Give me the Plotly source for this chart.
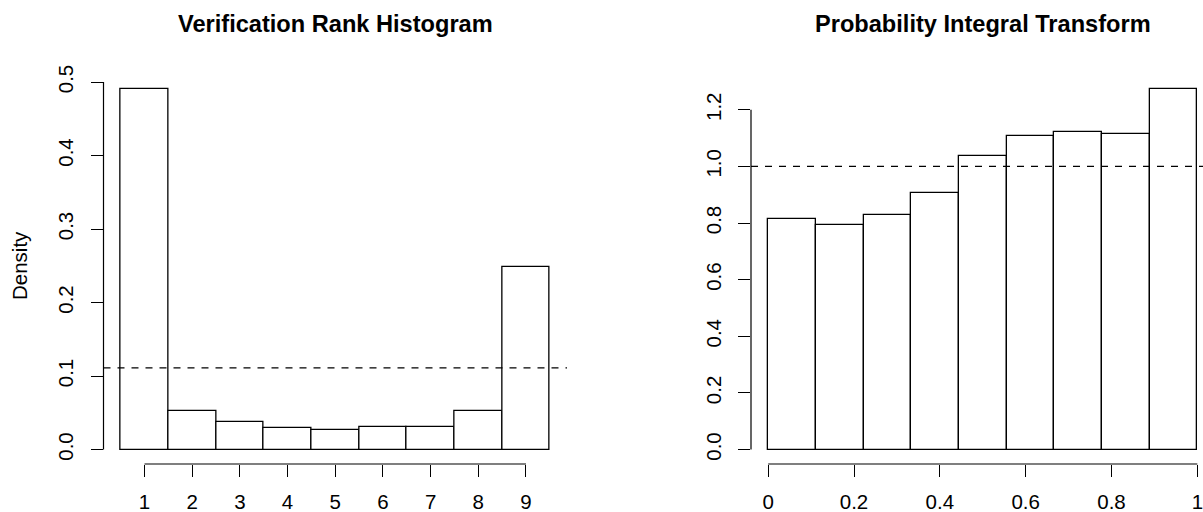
import plotly.graph_objects as go

# ---- data ----
ranks = [1, 2, 3, 4, 5, 6, 7, 8, 9]
rank_density = [0.490, 0.052, 0.037, 0.029, 0.027, 0.031, 0.031, 0.052, 0.249]
pit_edges = [i / 9 for i in range(10)]
pit_density = [0.815, 0.794, 0.828, 0.907, 1.036, 1.109, 1.123, 1.113, 1.272]
rank_ticks = [1, 2, 3, 4, 5, 6, 7, 8, 9]
pit_xticks = [0, 0.2, 0.4, 0.6, 0.8, 1.0]
pit_xlabels = ["0", "0.2", "0.4", "0.6", "0.8", "1"]
rank_yticks = [0, 0.1, 0.2, 0.3, 0.4, 0.5]
rank_ylabels = ["0.0", "0.1", "0.2", "0.3", "0.4", "0.5"]
pit_yticks = [0, 0.2, 0.4, 0.6, 0.8, 1.0, 1.2]
pit_ylabels = ["0.0", "0.2", "0.4", "0.6", "0.8", "1.0", "1.2"]

W, H = 1203, 512
FONT = "Liberation Sans, Arial, sans-serif"
TICKFONT = dict(family=FONT, size=20.5, color="black")

pit_centers = [(pit_edges[i] + pit_edges[i + 1]) / 2 for i in range(9)]
pit_width = pit_edges[1] - pit_edges[0]

fig = go.Figure()
fig.add_trace(go.Bar(x=ranks, y=rank_density, width=1,
                     marker=dict(color="white", line=dict(color="black", width=1.3)),
                     xaxis="x", yaxis="y", showlegend=False))
fig.add_trace(go.Bar(x=pit_centers, y=pit_density, width=pit_width,
                     marker=dict(color="white", line=dict(color="black", width=1.3)),
                     xaxis="x2", yaxis="y2", showlegend=False))

# plot regions in pixels
L1, R1 = 103.5, 567.0
L2 = 751.0
PW = R1 - L1
TOP, BOT = 75.0, 464.0
ydom = [(H - BOT) / H, (H - TOP) / H]

# ranges (R style 4% extension)
x1r = [0.5 - 0.04 * 9, 9.5 + 0.04 * 9]
y1max = max(rank_density)
y1r = [-0.04 * y1max, 1.04 * y1max]
x2full = [-0.04, 1.04]
x2r = [x2full[0], x2full[0] + (W - L2) / PW * (x2full[1] - x2full[0])]
y2max = max(pit_density)
y2r = [-0.04 * y2max, 1.04 * y2max]

common = dict(showgrid=False, zeroline=False, showline=False, ticks="outside",
              ticklen=12, tickwidth=1.2, tickcolor="black", tickfont=TICKFONT,
              fixedrange=True, automargin=False, ticklabeloverflow="allow")

fig.update_layout(
    width=W, height=H,
    margin=dict(l=0, r=0, t=0, b=0, autoexpand=False),
    paper_bgcolor="white", plot_bgcolor="white",
    bargap=0,
    xaxis=dict(domain=[L1 / W, R1 / W], range=x1r, tickvals=rank_ticks,
               ticktext=[str(v) for v in rank_ticks], anchor="y",
               ticklabelstandoff=7, **common),
    yaxis=dict(domain=ydom, range=y1r, tickvals=rank_yticks, ticktext=rank_ylabels,
               tickangle=-90, anchor="x", ticklabelstandoff=9, **common),
    xaxis2=dict(domain=[L2 / W, 1.0], range=x2r, tickvals=pit_xticks,
                ticktext=pit_xlabels, anchor="y2", ticklabelstandoff=7, **common),
    yaxis2=dict(domain=ydom, range=y2r, tickvals=pit_yticks, ticktext=pit_ylabels,
                tickangle=-90, anchor="x2", ticklabelstandoff=9, **common),
)

shapes = []
# axis lines spanning first to last tick (R style)
shapes.append(dict(type="line", xref="x", yref="y domain", x0=rank_ticks[0], x1=rank_ticks[-1],
                   y0=0, y1=0, line=dict(color="black", width=1.2)))
shapes.append(dict(type="line", xref="x domain", yref="y", x0=0, x1=0,
                   y0=rank_yticks[0], y1=rank_yticks[-1], line=dict(color="black", width=1.2)))
shapes.append(dict(type="line", xref="x2", yref="y2 domain", x0=pit_xticks[0], x1=pit_xticks[-1],
                   y0=0, y1=0, line=dict(color="black", width=1.2)))
shapes.append(dict(type="line", xref="x2 domain", yref="y2", x0=0, x1=0,
                   y0=pit_yticks[0], y1=pit_yticks[-1], line=dict(color="black", width=1.2)))
# uniform reference lines
shapes.append(dict(type="line", xref="x domain", yref="y", x0=0, x1=1,
                   y0=1 / len(ranks), y1=1 / len(ranks), layer="above",
                   line=dict(color="black", width=1.3, dash="7px,7px")))
shapes.append(dict(type="line", xref="x2 domain", yref="y2", x0=0, x1=1,
                   y0=1.0, y1=1.0, layer="above",
                   line=dict(color="black", width=1.3, dash="7px,7px")))
fig.update_layout(shapes=shapes)

TITLEFONT = dict(family=FONT, size=23.6, color="black")
fig.add_annotation(text="<b>Verification Rank Histogram</b>", xref="paper", yref="paper",
                   x=(L1 + R1) / 2 / W, y=(H - 24) / H, xanchor="center", yanchor="middle",
                   showarrow=False, font=TITLEFONT)
fig.add_annotation(text="<b>Probability Integral Transform</b>", xref="paper", yref="paper",
                   x=(L2 + L2 + PW) / 2 / W, y=(H - 24) / H, xanchor="center", yanchor="middle",
                   showarrow=False, font=TITLEFONT)
fig.add_annotation(text="Density", xref="paper", yref="paper",
                   x=19 / W, y=(H - 266) / H, xanchor="center", yanchor="middle",
                   textangle=-90, showarrow=False, font=TICKFONT)

fig.write_html("out.html")
